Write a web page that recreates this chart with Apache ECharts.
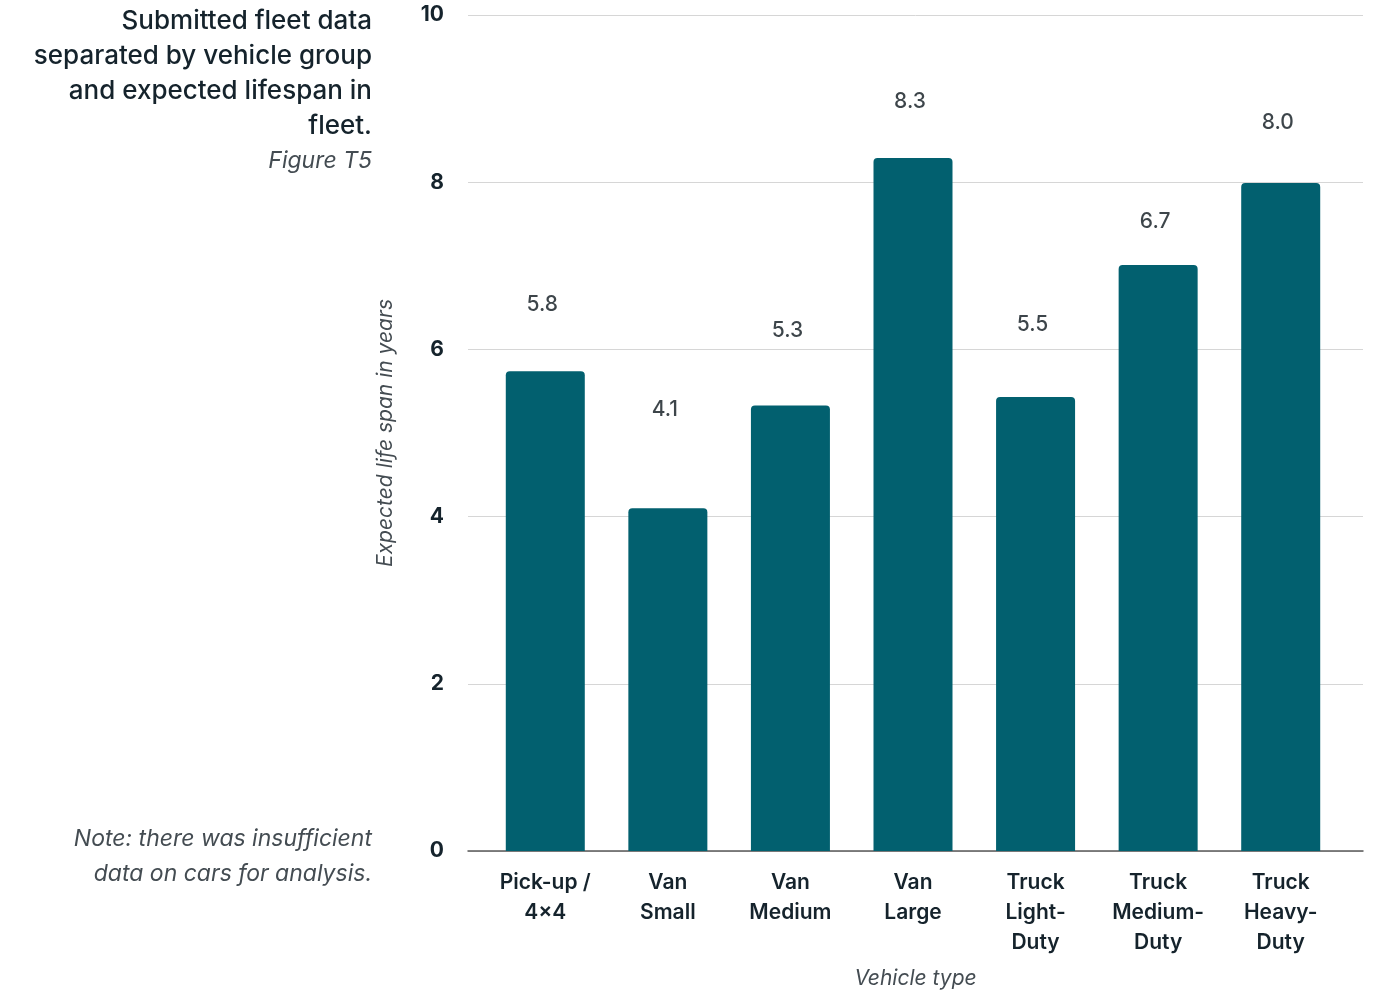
<!DOCTYPE html>
<html>
<head>
<meta charset="utf-8">
<style>
  html, body { margin: 0; padding: 0; background: #fff; }
  #main { width: 1385px; height: 991px; }
</style>
<script src="https://cdn.jsdelivr.net/npm/echarts@6/dist/echarts.min.js"></script>
</head>
<body>
<div id="main"></div>
<script>
// 车辆类别
const categories = ['Pick-up /\n4×4', 'Van\nSmall', 'Van\nMedium', 'Van\nLarge', 'Truck\nLight-\nDuty', 'Truck\nMedium-\nDuty', 'Truck\nHeavy-\nDuty'];
// 柱高（读图得到）
const barValues = [5.74, 4.1, 5.33, 8.29, 5.43, 7.01, 7.99];
// 柱上标注文字
const valueLabels = ['5.8', '4.1', '5.3', '8.3', '5.5', '6.7', '8.0'];
// 标注所在的高度（与柱高不一致，原图如此）
const labelHeights = [6.54, 5.28, 6.22, 8.96, 6.30, 7.53, 8.71];
// y轴刻度
const yTicks = [0, 2, 4, 6, 8, 10];

const font = 'Inter, "Noto Sans", sans-serif';
const dark = '#15232c';
const grey = '#444c52';
const barColor = '#02606f';

const myChart = echarts.init(document.getElementById('main'));

const option = {
  backgroundColor: '#fff',
  textStyle: { fontFamily: font },
  grid: [
    { left: 468, right: 22, top: 15, bottom: 140, outerBoundsMode: 'none' },
    { left: 484, right: 43, top: 15, bottom: 140, outerBoundsMode: 'none' }
  ],
  xAxis: [
    {
      type: 'value', gridIndex: 0, min: 0, max: 1,
      axisLine: { show: true, lineStyle: { color: '#5a5a5a', width: 1.5 } },
      axisTick: { show: false }, axisLabel: { show: false }, splitLine: { show: false },
      name: 'Vehicle type', nameLocation: 'middle', nameGap: 117,
      nameTextStyle: { fontFamily: font, fontSize: 21, fontStyle: 'italic', color: grey }
    },
    {
      type: 'category', gridIndex: 1, data: categories,
      axisLine: { show: false }, axisTick: { show: false },
      axisLabel: {
        interval: 0, margin: 17, color: dark, fontFamily: font,
        fontSize: 21, fontWeight: 600, lineHeight: 30, align: 'center'
      }
    }
  ],
  yAxis: [
    {
      type: 'value', gridIndex: 0, min: yTicks[0], max: yTicks[yTicks.length - 1], interval: 2,
      axisLine: { show: false }, axisTick: { show: false },
      axisLabel: {
        margin: 24, color: dark, fontFamily: font, fontSize: 21, fontWeight: 700,
        padding: [12, 0, 0, 0]
      },
      splitLine: { lineStyle: { color: '#d6d6d6', width: 1 } },
      name: 'Expected life span in years', nameLocation: 'middle', nameGap: 72,
      nameTextStyle: { fontFamily: font, fontSize: 21, fontStyle: 'italic', color: grey }
    },
    {
      type: 'value', gridIndex: 1, min: 0, max: 10, show: false
    }
  ],
  graphic: [
    {
      type: 'text', x: 372, y: 4,
      style: {
        text: 'Submitted fleet data\nseparated by vehicle group\nand expected lifespan in\nfleet.',
        fill: dark, font: '500 26px ' + font, lineHeight: 35, align: 'right', verticalAlign: 'top'
      }
    },
    {
      type: 'text', x: 372, y: 144,
      style: { text: 'Figure T5', fill: grey, font: 'italic 23px ' + font, lineHeight: 35, align: 'right', verticalAlign: 'top' }
    },
    {
      type: 'text', x: 372, y: 822,
      style: {
        text: 'Note: there was insufficient\ndata on cars for analysis.',
        fill: grey, font: 'italic 23px ' + font, lineHeight: 35, align: 'right', verticalAlign: 'top'
      }
    }
  ],
  series: [
    {
      type: 'bar', xAxisIndex: 1, yAxisIndex: 1,
      data: barValues, barWidth: 79,
      itemStyle: { color: barColor, borderRadius: [4, 4, 0, 0] },
      silent: true
    },
    {
      type: 'scatter', xAxisIndex: 1, yAxisIndex: 1,
      symbolSize: 0, silent: true,
      data: labelHeights.map((v, i) => [i, v]),
      label: {
        show: true, position: 'inside', offset: [-3, 0],
        formatter: p => valueLabels[p.dataIndex],
        color: '#0d171d', fontFamily: font, fontSize: 21, fontWeight: 500
      }
    }
  ]
};

myChart.setOption(option);
</script>
</body>
</html>
